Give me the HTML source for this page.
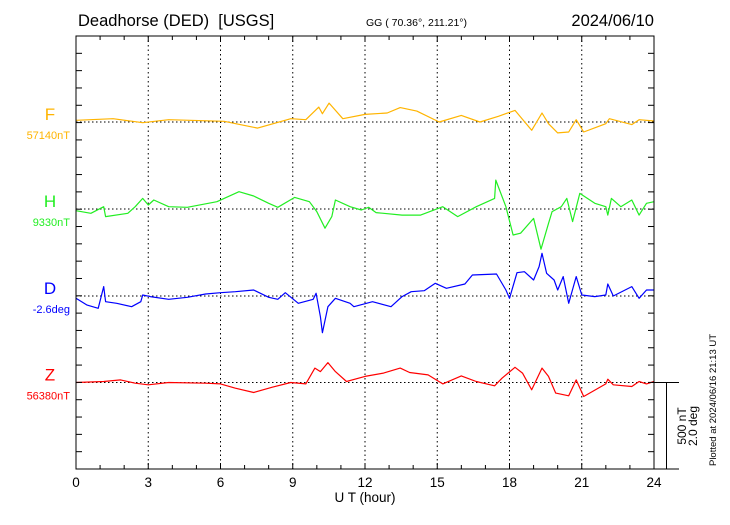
<!DOCTYPE html>
<html><head><meta charset="utf-8"><style>
html,body{margin:0;padding:0;background:#fff}
svg text{font-family:"Liberation Sans",sans-serif;white-space:pre}
</style></head><body>
<svg id="chart" width="730" height="520" viewBox="0 0 730 520" xmlns="http://www.w3.org/2000/svg" xml:space="preserve">
<text x="78" y="26" font-size="16.5">Deadhorse (DED)  [USGS]</text>
<text x="366" y="26" font-size="10.5">GG ( 70.36°, 211.21°)</text>
<text x="654" y="26" font-size="16.5" text-anchor="end">2024/06/10</text>
<g id="grid"></g>
<g id="series"></g>
<rect x="76" y="36" width="578" height="433" fill="none" stroke="#000" stroke-width="1"/>
<g id="axes"></g>
<text x="365" y="502" font-size="13.5" text-anchor="middle">U T (hour)</text>
<line x1="654" y1="382.5" x2="679" y2="382.5" stroke="#000"/>
<line x1="654" y1="469" x2="679" y2="469" stroke="#000"/>
<line x1="666.5" y1="382.5" x2="666.5" y2="469" stroke="#000"/>
<text transform="translate(686,426) rotate(-90)" font-size="12" text-anchor="middle">500 nT</text>
<text transform="translate(697,426) rotate(-90)" font-size="12" text-anchor="middle">2.0 deg</text>
<text transform="translate(716,400) rotate(-90)" font-size="9.5" text-anchor="middle">Plotted at 2024/06/16 21:13 UT</text>
</svg>
<script>
const xTicks=[0,3,6,9,12,15,18,21,24];
const seriesNames=["F","H","D","Z"];
const refLabels=["57140nT","9330nT","-2.6deg","56380nT"];
const refValues=[57140,9330,-2.6,56380];
const fT=[0,1.54,2.77,3.85,6.15,7.54,8.92,9.54,10.08,10.23,10.51,11.08,12,12.92,13.46,14.15,15.08,16,16.77,17.54,18.23,18.92,19.35,19.62,20,20.46,20.77,21.08,22,22.15,23.08,23.38,24];
const fV=[57150,57159,57136,57153,57144,57105,57159,57153,57226,57188,57249,57159,57184,57192,57223,57203,57140,57178,57140,57173,57207,57092,57192,57130,57077,57082,57153,57082,57130,57159,57125,57153,57146];
const hT=[0,0.62,1.15,1.23,2.15,2.46,2.77,3,3.23,3.85,4.62,5.85,6.15,6.77,7.38,8,8.38,9.08,9.69,10,10.34,10.62,10.77,11.38,11.85,12.15,12.46,13.54,14.31,15.23,15.85,16.62,17.38,17.43,17.85,18.15,18.46,19,19.31,19.62,19.77,20.15,20.38,20.62,20.92,21.54,22,22.08,22.23,22.62,23.08,23.38,23.69,24];
const hV=[9320,9305,9343,9286,9305,9343,9391,9353,9382,9343,9340,9372,9391,9430,9405,9363,9340,9397,9372,9315,9219,9286,9382,9343,9324,9340,9309,9295,9295,9343,9286,9343,9391,9497,9343,9180,9190,9276,9098,9247,9315,9343,9391,9257,9420,9363,9343,9295,9391,9343,9382,9295,9363,9372];
const dT=[0,0.46,0.92,1.15,1.23,1.69,2.31,2.69,2.77,3.08,3.85,4.62,5.38,6,6.62,7.38,8,8.38,8.69,9.23,9.85,9.97,10.15,10.23,10.46,10.77,11.38,11.54,12.31,13.08,13.54,13.92,14.46,14.92,15.38,16.15,16.46,17.46,17.85,18,18.31,18.62,19,19.23,19.35,19.54,19.85,20,20.23,20.46,20.77,21,21.54,22,22.08,22.31,23.08,23.38,23.69,24];
const dV=[-2.654,-2.81,-2.885,-2.384,-2.731,-2.769,-2.846,-2.731,-2.577,-2.615,-2.677,-2.631,-2.554,-2.523,-2.5,-2.461,-2.631,-2.677,-2.523,-2.769,-2.677,-2.538,-3.077,-3.447,-2.846,-2.654,-2.769,-2.846,-2.731,-2.846,-2.615,-2.5,-2.477,-2.307,-2.423,-2.323,-2.115,-2.092,-2.461,-2.654,-2.061,-2.038,-2.23,-1.922,-1.614,-2.076,-2.23,-2.461,-2.153,-2.769,-2.153,-2.577,-2.615,-2.577,-2.323,-2.6,-2.384,-2.654,-2.461,-2.461];
const zT=[0,1.15,1.85,2.46,3,3.85,5.38,6,6.62,7.38,8.15,8.92,9.54,9.92,10.15,10.46,10.77,11.23,12,12.77,13.46,13.85,14.62,15.23,16,16.62,17.38,17.69,18.23,18.54,18.92,19.35,19.62,19.92,20.46,20.77,21.08,22,22.08,22.31,23.08,23.38,23.69,24];
const zV=[56380,56386,56395,56376,56367,56380,56376,56372,56347,56322,56353,56380,56372,56463,56443,56495,56443,56386,56415,56434,56463,56438,56424,56372,56418,56386,56361,56405,56468,56434,56338,56463,56415,56319,56303,56395,56299,56372,56399,56367,56357,56386,56372,56386];

const NS="http://www.w3.org/2000/svg";
const X0=76,X1=654,Y0=36,Y1=469;
const bases=[122,209,296,382.5];
const colors=["#ffb400","#22ee22","#0000ff","#ff0000"];
const pxPerUnit=[86.6/500,86.6/500,86.6/2,86.6/500];
function xs(h){return X0+(X1-X0)*h/24;}
function ys(i,v){return bases[i]-(v-refValues[i])*pxPerUnit[i];}
function mk(tag,attrs,parent){const e=document.createElementNS(NS,tag);for(const k in attrs)e.setAttribute(k,attrs[k]);parent.appendChild(e);return e;}
const grid=document.getElementById('grid'),axes=document.getElementById('axes'),ser=document.getElementById('series');
xTicks.forEach(t=>{
  if(t>0&&t<24){const l=mk('line',{x1:xs(t),y1:Y0,x2:xs(t),y2:Y1,stroke:'#000','stroke-dasharray':'1.5,3'},grid);
  
  }
  const tx=mk('text',{x:xs(t),y:487,'font-size':'13.5','text-anchor':'middle'},axes);tx.textContent=t;
  
  
});
for(let h=1;h<24;h++){
  const len=(h%3===0)?6:4;
  mk('line',{x1:xs(h),y1:Y0,x2:xs(h),y2:Y0+len,stroke:'#000'},axes);
  mk('line',{x1:xs(h),y1:Y1,x2:xs(h),y2:Y1-len,stroke:'#000'},axes);
}
for(let k=1;k<25;k++){const y=Y1-k*(Y1-Y0)/25;
  mk('line',{x1:X0,y1:y,x2:X0+6,y2:y,stroke:'#000'},axes);
  mk('line',{x1:X1,y1:y,x2:X1-6,y2:y,stroke:'#000'},axes);}
const Ts=[fT,hT,dT,zT],Vs=[fV,hV,dV,zV];
seriesNames.forEach((n,i)=>{
  const b=mk('line',{x1:X0,y1:bases[i],x2:X1,y2:bases[i],stroke:'#000','stroke-dasharray':'1.5,2.5'},grid);
  
  
  const d=Ts[i].map((t,j)=>(j?'L':'M')+xs(t).toFixed(1)+','+ys(i,Vs[i][j]).toFixed(1)).join('');
  const p=mk('path',{d:d,fill:'none',stroke:colors[i],'stroke-width':'1.2','stroke-linejoin':'round'},ser);
  
  
  const t1=mk('text',{x:50,y:bases[i]-2,'font-size':'17','text-anchor':'middle',fill:colors[i]},axes);t1.textContent=n;
  
  
  const t2=mk('text',{x:70,y:bases[i]+17,'font-size':'11','text-anchor':'end',fill:colors[i]},axes);t2.textContent=refLabels[i];
  
  
});
</script>
</body></html>
